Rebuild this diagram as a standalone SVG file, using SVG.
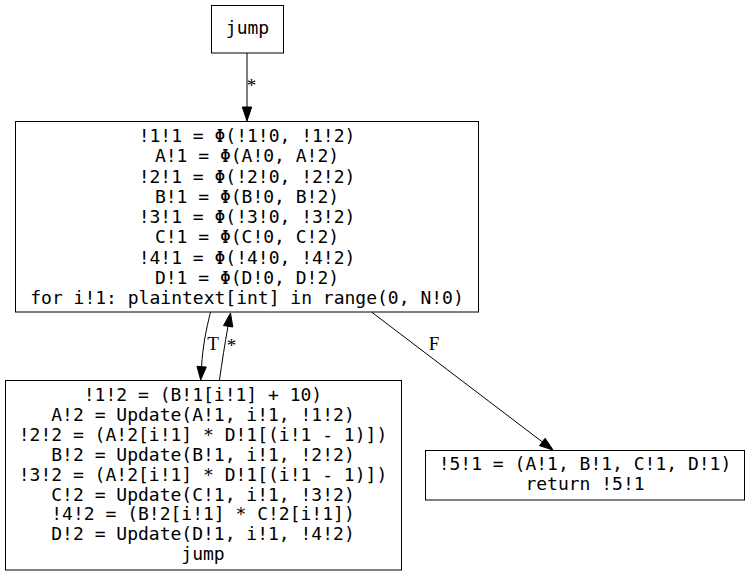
<svg xmlns="http://www.w3.org/2000/svg" width="749" height="576" viewBox="0 0 749 576">
<style>
  .box { fill: #ffffff; stroke: #000000; stroke-width: 1; }
  .code { font-family: "DejaVu Sans Mono", "Liberation Mono", monospace; font-size: 18px; fill: #000000; text-anchor: middle; }
  .edge { fill: none; stroke: #000000; stroke-width: 1; }
  .head { fill: #000000; stroke: #000000; stroke-width: 1; }
  .lbl { font-family: "Liberation Serif", "Times New Roman", serif; font-size: 19px; fill: #000000; text-anchor: middle; }
</style>
<rect x="0" y="0" width="749" height="576" fill="#ffffff"/>
<g id="edges">
  <g id="e_jump_main">
    <path class="edge" d="M247,53 L247,107"/>
    <polygon class="head" points="242.3,107 251.7,107 247,121"/>
    <text class="lbl" x="251.5" y="92">*</text>
  </g>
  <g id="e_main_body">
    <path class="edge" d="M210.5,312 C206,330 202.5,348 201.6,366.6"/>
    <polygon class="head" points="197,366.3 206.3,367 200.7,380"/>
    <text class="lbl" x="213" y="349.5">T</text>
  </g>
  <g id="e_body_main">
    <path class="edge" d="M219.5,380 C222,362 225,343 228,326.3"/>
    <polygon class="head" points="223.5,325.6 232.8,327 230.5,313"/>
    <text class="lbl" x="231.5" y="352">*</text>
  </g>
  <g id="e_main_exit">
    <path class="edge" d="M371.5,312 L542.3,441.9"/>
    <polygon class="head" points="539.5,445.7 545.1,438.2 553,450"/>
    <text class="lbl" x="434" y="350">F</text>
  </g>
</g>
<g id="node_jump">
  <rect class="box" x="211.5" y="5.5" width="72" height="47.5"/>
  <text class="code" x="247.5" y="34">jump</text>
</g>
<g id="node_main">
  <rect class="box" x="15.5" y="121.5" width="463" height="190.5"/>
  <text class="code" x="247" y="142">!1!1 = Φ(!1!0, !1!2)</text>
  <text class="code" x="247" y="162.3">A!1 = Φ(A!0, A!2)</text>
  <text class="code" x="247" y="182.5">!2!1 = Φ(!2!0, !2!2)</text>
  <text class="code" x="247" y="202.8">B!1 = Φ(B!0, B!2)</text>
  <text class="code" x="247" y="223">!3!1 = Φ(!3!0, !3!2)</text>
  <text class="code" x="247" y="243.3">C!1 = Φ(C!0, C!2)</text>
  <text class="code" x="247" y="263.5">!4!1 = Φ(!4!0, !4!2)</text>
  <text class="code" x="247" y="283.8">D!1 = Φ(D!0, D!2)</text>
  <text class="code" x="247" y="304">for i!1: plaintext[int] in range(0, N!0)</text>
</g>
<g id="node_body">
  <rect class="box" x="5.5" y="380.5" width="396" height="189.5"/>
  <text class="code" x="203" y="401">!1!2 = (B!1[i!1] + 10)</text>
  <text class="code" x="203" y="420.9">A!2 = Update(A!1, i!1, !1!2)</text>
  <text class="code" x="203" y="440.8">!2!2 = (A!2[i!1] * D!1[(i!1 - 1)])</text>
  <text class="code" x="203" y="460.7">B!2 = Update(B!1, i!1, !2!2)</text>
  <text class="code" x="203" y="480.6">!3!2 = (A!2[i!1] * D!1[(i!1 - 1)])</text>
  <text class="code" x="203" y="500.5">C!2 = Update(C!1, i!1, !3!2)</text>
  <text class="code" x="203" y="520.4">!4!2 = (B!2[i!1] * C!2[i!1])</text>
  <text class="code" x="203" y="540.3">D!2 = Update(D!1, i!1, !4!2)</text>
  <text class="code" x="203" y="560.2">jump</text>
</g>
<g id="node_exit">
  <rect class="box" x="425.5" y="450.5" width="319" height="49.5"/>
  <text class="code" x="585" y="470">!5!1 = (A!1, B!1, C!1, D!1)</text>
  <text class="code" x="585" y="490">return !5!1</text>
</g>
</svg>
